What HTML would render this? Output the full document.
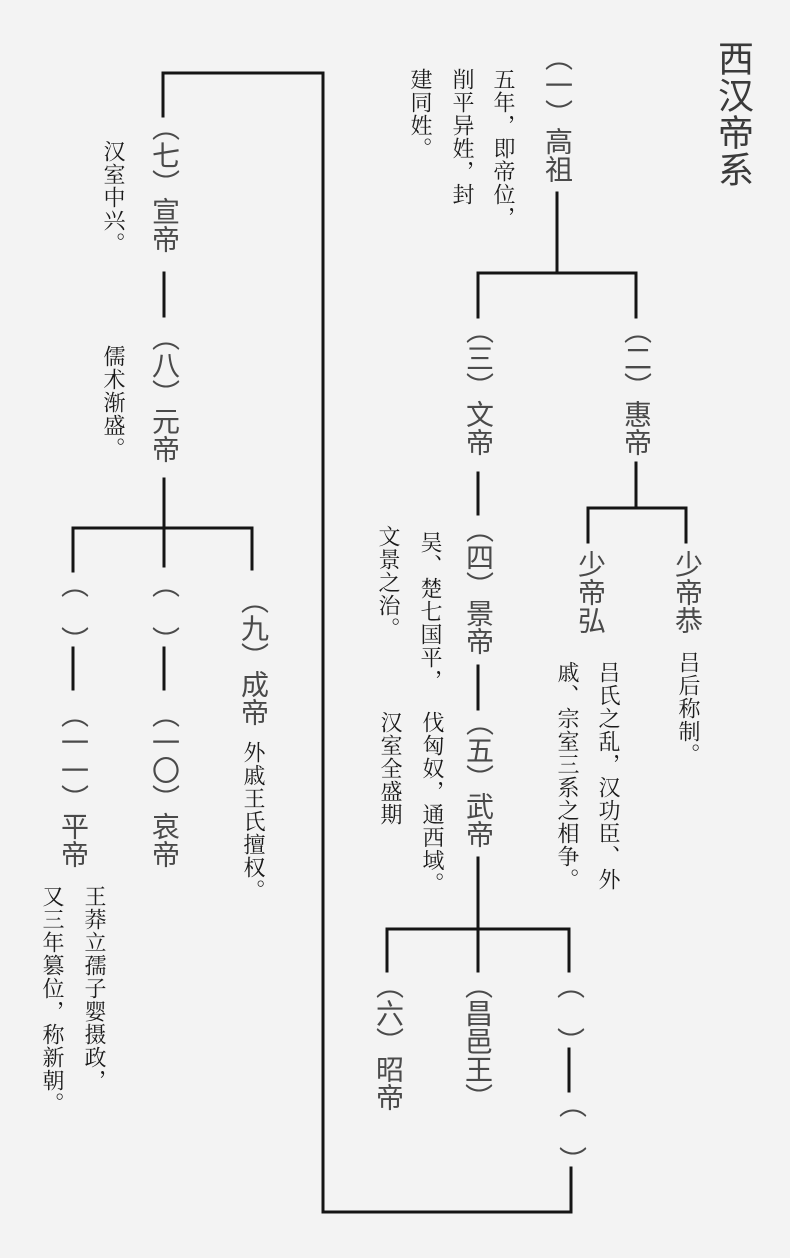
<!DOCTYPE html>
<html>
<head>
<meta charset="utf-8">
<style>
  html,body{margin:0;padding:0;}
  body{width:790px;height:1258px;background:#f3f3f3;position:relative;overflow:hidden;}
  .v{position:absolute;writing-mode:vertical-rl;text-orientation:mixed;white-space:nowrap;}
  .lab{font-family:"Liberation Sans","Noto Sans CJK SC",sans-serif;font-size:28px;line-height:28px;width:28px;color:#4a4a4a;}
  .note{font-family:"Liberation Serif","Noto Serif CJK SC",serif;font-size:22px;line-height:22px;width:22px;letter-spacing:1px;color:#1a1a1a;}
  .title{font-family:"Liberation Sans","Noto Sans CJK SC",sans-serif;font-size:36px;line-height:36px;width:36px;letter-spacing:1px;color:#3a3a3a;}
  svg{position:absolute;left:0;top:0;}
</style>
</head>
<body>
<svg width="790" height="1258" viewBox="0 0 790 1258">
  <g stroke="#151515" stroke-width="3" stroke-linecap="square" fill="none">
    <line x1="557" y1="193" x2="557" y2="273"/>
    <line x1="478" y1="273" x2="636" y2="273"/>
    <line x1="478" y1="273" x2="478" y2="317"/>
    <line x1="636" y1="273" x2="636" y2="317"/>
    <line x1="636" y1="463" x2="636" y2="508"/>
    <line x1="588" y1="508" x2="686" y2="508"/>
    <line x1="588" y1="508" x2="588" y2="542"/>
    <line x1="686" y1="508" x2="686" y2="542"/>
    <line x1="478" y1="473" x2="478" y2="514"/>
    <line x1="478" y1="666" x2="478" y2="709"/>
    <line x1="478" y1="858" x2="478" y2="929"/>
    <line x1="387" y1="929" x2="569" y2="929"/>
    <line x1="387" y1="929" x2="387" y2="971"/>
    <line x1="478" y1="929" x2="478" y2="971"/>
    <line x1="569" y1="929" x2="569" y2="971"/>
    <line x1="569" y1="1049" x2="569" y2="1091"/>
    <line x1="571" y1="1168" x2="571" y2="1212"/>
    <line x1="323" y1="1212" x2="571" y2="1212"/>
    <line x1="323" y1="73" x2="323" y2="1212"/>
    <line x1="163" y1="73" x2="323" y2="73"/>
    <line x1="163" y1="73" x2="163" y2="116"/>
    <line x1="164" y1="273" x2="164" y2="316"/>
    <line x1="164" y1="479" x2="164" y2="528"/>
    <line x1="73" y1="528" x2="252" y2="528"/>
    <line x1="73" y1="528" x2="73" y2="571"/>
    <line x1="164" y1="528" x2="164" y2="566"/>
    <line x1="252" y1="528" x2="252" y2="569"/>
    <line x1="73" y1="648" x2="73" y2="689"/>
    <line x1="164" y1="648" x2="164" y2="689"/>
  </g>
</svg>

<div class="v title" style="left:715px;top:40px;">西汉帝系</div>

<div class="v lab" style="left:543px;top:43px;">（一）高祖</div>
<div class="v lab" style="left:622px;top:316px;">（二）惠帝</div>
<div class="v lab" style="left:464px;top:316px;">（三）文帝</div>
<div class="v lab" style="left:576px;top:550px;">少帝弘</div>
<div class="v lab" style="left:673px;top:550px;">少帝恭</div>
<div class="v lab" style="left:464px;top:515px;">（四）景帝</div>
<div class="v lab" style="left:464px;top:708px;">（五）武帝</div>
<div class="v lab" style="left:374px;top:971px;">（六）昭帝</div>
<div class="v lab" style="left:463px;top:971px;">（昌邑王）</div>
<div class="v lab" style="left:555px;top:971px;">（　）</div>
<div class="v lab" style="left:557px;top:1090px;">（　）</div>
<div class="v lab" style="left:150px;top:113px;">（七）宣帝</div>
<div class="v lab" style="left:150px;top:323px;">（八）元帝</div>
<div class="v lab" style="left:239px;top:586px;">（九）成帝</div>
<div class="v lab" style="left:59px;top:570px;">（　）</div>
<div class="v lab" style="left:150px;top:570px;">（　）</div>
<div class="v lab" style="left:150px;top:700px;">（一〇）哀帝</div>
<div class="v lab" style="left:59px;top:700px;">（一一）平帝</div>

<div class="v note" style="left:492px;top:68px;">五年，即帝位，</div>
<div class="v note" style="left:451px;top:68px;">削平异姓，封</div>
<div class="v note" style="left:409px;top:68px;">建同姓。</div>

<div class="v note" style="left:102px;top:140px;">汉室中兴。</div>
<div class="v note" style="left:102px;top:345px;">儒术渐盛。</div>

<div class="v note" style="left:419px;top:531px;">吴、楚七国平，</div>
<div class="v note" style="left:377px;top:525px;">文景之治。</div>

<div class="v note" style="left:677px;top:651px;">吕后称制。</div>
<div class="v note" style="left:597px;top:661px;">吕氏之乱，汉功臣、外</div>
<div class="v note" style="left:556px;top:661px;">戚、宗室三系之相争。</div>

<div class="v note" style="left:421px;top:711px;">伐匈奴，通西域。</div>
<div class="v note" style="left:379px;top:711px;">汉室全盛期</div>

<div class="v note" style="left:242px;top:741px;">外戚王氏擅权。</div>

<div class="v note" style="left:83px;top:885px;">王莽立孺子婴摄政，</div>
<div class="v note" style="left:41px;top:885px;">又三年篡位，称新朝。</div>
</body>
</html>
